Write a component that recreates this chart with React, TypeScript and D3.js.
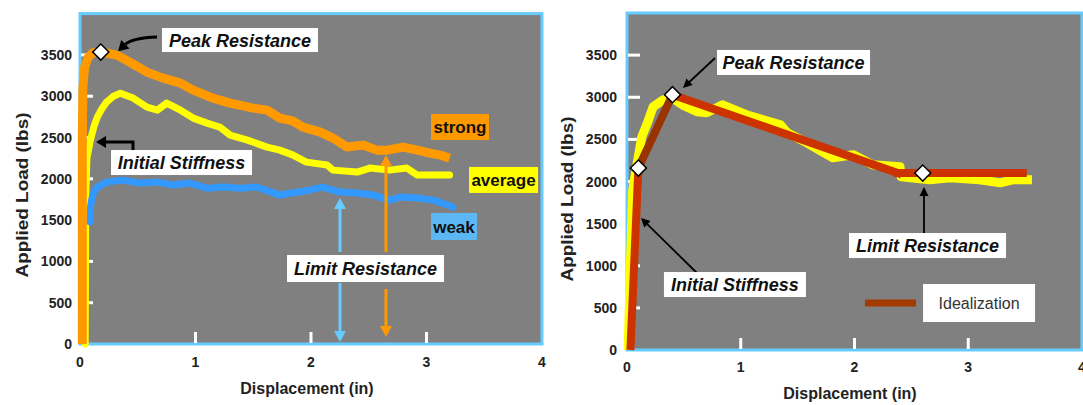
import React, { useEffect, useRef } from 'react';
import * as d3 from 'd3';

const dispTicks = [0, 1, 2, 3, 4];
const loadTicks = [0, 500, 1000, 1500, 2000, 2500, 3000, 3500];

// left panel: measured curves, [displacement (in), load (lbs)]
const strongCurve = [
  [0.02, 0], [0.02, 2500], [0.025, 3100], [0.04, 3350], [0.07, 3470], [0.11, 3525], [0.18, 3535],
  [0.32, 3497], [0.43, 3412], [0.58, 3291], [0.72, 3219], [0.87, 3158], [0.98, 3073],
  [1.15, 2977], [1.3, 2916], [1.5, 2856], [1.62, 2831], [1.73, 2735], [1.84, 2700],
  [1.93, 2626], [2.08, 2565], [2.19, 2493], [2.31, 2384], [2.45, 2408], [2.57, 2347],
  [2.66, 2347], [2.8, 2384], [2.92, 2347], [3.03, 2311], [3.12, 2287], [3.2, 2250],
];
const averageCurve = [
  [0.045, 0], [0.05, 1800], [0.06, 2250], [0.09, 2468], [0.12, 2630], [0.15, 2747],
  [0.19, 2850], [0.23, 2928], [0.29, 3000], [0.35, 3037], [0.46, 2977], [0.58, 2868],
  [0.67, 2831], [0.75, 2916], [0.87, 2831], [0.98, 2735], [1.1, 2674], [1.21, 2626],
  [1.3, 2529], [1.45, 2468], [1.62, 2384], [1.73, 2347], [1.84, 2290], [1.96, 2202],
  [2.14, 2166], [2.19, 2105], [2.4, 2081], [2.51, 2130], [2.68, 2105], [2.83, 2130],
  [2.92, 2045], [3.2, 2045],
];
const weakCurve = [
  [0.085, 1480], [0.09, 1650], [0.1, 1742], [0.12, 1840], [0.15, 1900], [0.23, 1960],
  [0.37, 1984], [0.52, 1948], [0.67, 1960], [0.81, 1924], [0.95, 1948], [1.1, 1887],
  [1.24, 1900], [1.39, 1887], [1.53, 1900], [1.73, 1803], [1.84, 1830], [1.9, 1839],
  [2.1, 1900], [2.25, 1839], [2.4, 1827], [2.54, 1803], [2.68, 1742], [2.77, 1779],
  [2.92, 1767], [3.06, 1742], [3.23, 1658],
];
const peakPoint = [0.18, 3535];

// right panel: average trace and its idealization
const averageTrace = [
  [0.01, 0], [0.03, 1000], [0.05, 1900], [0.09, 2221], [0.13, 2530], [0.18, 2697],
  [0.23, 2887], [0.32, 2970], [0.38, 3006], [0.5, 2900], [0.62, 2827], [0.7, 2815],
  [0.84, 2910], [1.05, 2792], [1.35, 2673], [1.41, 2578], [1.58, 2459], [1.81, 2281],
  [1.99, 2317], [2.16, 2198], [2.4, 2174], [2.41, 2055], [2.66, 2020], [2.84, 2043],
  [3.1, 2020], [3.28, 1984], [3.39, 2020], [3.56, 2020],
];
const idealization = [[0.03, 0], [0.1, 2160], [0.4, 3030], [2.38, 2100], [3.48, 2100]];
const idealPoints = [[0.1, 2160], [0.4, 3030], [2.6, 2100]];

const FONT = "Arial, 'Liberation Sans', sans-serif";

function App() {
  const svgRef = useRef(null);

  useEffect(() => {
    const svg = d3.select(svgRef.current);
    svg.selectAll('*').remove();

    const drawFrame = (x, y, titleX, titleY, labelRight, xLabelDy, xTitleDy) => {
      const g = svg.append('g');
      const [x0, x1] = x.range();
      const [y0, y1] = y.range();
      g.append('rect')
        .attr('x', x0).attr('y', y1)
        .attr('width', x1 - x0).attr('height', y0 - y1)
        .attr('fill', '#808080')
        .attr('stroke', '#66ccff')
        .attr('stroke-width', 3);

      g.selectAll(null)
        .data(loadTicks.filter(d => d > 0))
        .join('line')
        .attr('x1', x0 + 1).attr('x2', x0 + 13)
        .attr('y1', d => y(d)).attr('y2', d => y(d))
        .attr('stroke', 'white').attr('stroke-width', 3);
      g.selectAll(null)
        .data(dispTicks.filter(d => d > 0 && d < 4))
        .join('line')
        .attr('x1', d => x(d)).attr('x2', d => x(d))
        .attr('y1', y0 - 1).attr('y2', y0 - 12)
        .attr('stroke', 'white').attr('stroke-width', 3);

      g.selectAll(null)
        .data(loadTicks)
        .join('text')
        .text(d => d)
        .attr('x', labelRight)
        .attr('y', d => y(d) + 5)
        .attr('text-anchor', 'end')
        .style('font-family', FONT).style('font-weight', 'bold').style('font-size', '14px')
        .attr('fill', '#222');
      g.selectAll(null)
        .data(dispTicks)
        .join('text')
        .text(d => d)
        .attr('x', d => x(d))
        .attr('y', y0 + xLabelDy)
        .attr('text-anchor', 'middle')
        .style('font-family', FONT).style('font-weight', 'bold').style('font-size', '14px')
        .attr('fill', '#222');

      g.append('text')
        .text('Displacement (in)')
        .attr('x', titleX).attr('y', y0 + xTitleDy)
        .attr('text-anchor', 'middle')
        .style('font-family', FONT).style('font-weight', 'bold').style('font-size', '16px')
        .attr('fill', '#222');
      g.append('text')
        .text('Applied Load (lbs)')
        .attr('transform', `translate(${titleY[0]},${titleY[1]}) rotate(-90)`)
        .attr('text-anchor', 'middle')
        .attr('dy', '0.35em')
        .attr('textLength', 165)
        .attr('lengthAdjust', 'spacingAndGlyphs')
        .style('font-family', FONT).style('font-weight', 'bold').style('font-size', '16px')
        .attr('fill', '#222');
      return g;
    };

    const arrow = (g, x1, y1, x2, y2, color, width, headLen, headHalf) => {
      const a = Math.atan2(y2 - y1, x2 - x1);
      const bx = x2 - headLen * Math.cos(a);
      const by = y2 - headLen * Math.sin(a);
      g.append('line')
        .attr('x1', x1).attr('y1', y1).attr('x2', bx + Math.cos(a)).attr('y2', by + Math.sin(a))
        .attr('stroke', color).attr('stroke-width', width);
      g.append('polygon')
        .attr('points', [
          [x2, y2],
          [bx + headHalf * Math.sin(a), by - headHalf * Math.cos(a)],
          [bx - headHalf * Math.sin(a), by + headHalf * Math.cos(a)],
        ].map(p => p.join(',')).join(' '))
        .attr('fill', color);
    };

    const label = (g, cx, cy, w, h, text, opts) => {
      const size = opts.size || 18;
      g.append('rect')
        .attr('x', cx - w / 2).attr('y', cy - h / 2)
        .attr('width', w).attr('height', h)
        .attr('fill', opts.fill || 'white');
      g.append('text')
        .text(text)
        .attr('x', cx + (opts.dx || 0)).attr('y', cy + size * 0.36)
        .attr('text-anchor', 'middle')
        .style('font-family', FONT)
        .style('font-weight', opts.weight || 'bold')
        .style('font-style', opts.italic ? 'italic' : 'normal')
        .style('font-size', `${size}px`)
        .attr('fill', opts.color || '#111');
    };

    const diamond = d3.symbol().type(d3.symbolSquare).size(130);

    // ---------- left panel ----------
    const lx = d3.scaleLinear().domain([0, 4]).range([80, 542]);
    const ly = d3.scaleLinear().domain([0, 4000]).range([344, 13.6]);
    const left = drawFrame(lx, ly, 307, [22, 195], 72, 23, 50);
    const lLine = d3.line().x(d => lx(d[0])).y(d => ly(d[1]));

    left.append('path').attr('d', lLine(averageCurve))
      .attr('fill', 'none').attr('stroke', '#ffff00').attr('stroke-width', 7)
      .attr('stroke-linejoin', 'round').attr('stroke-linecap', 'round');
    left.append('path').attr('d', lLine(weakCurve))
      .attr('fill', 'none').attr('stroke', '#3399ff').attr('stroke-width', 7)
      .attr('stroke-linejoin', 'round').attr('stroke-linecap', 'round');
    left.append('path').attr('d', lLine(strongCurve))
      .attr('fill', 'none').attr('stroke', '#ff9900').attr('stroke-width', 9)
      .attr('stroke-linejoin', 'round').attr('stroke-linecap', 'butt');

    left.append('path')
      .attr('d', diamond())
      .attr('transform', `translate(${lx(peakPoint[0])},${ly(peakPoint[1])}) rotate(45)`)
      .attr('fill', 'white').attr('stroke', 'black').attr('stroke-width', 1.5);

    // peak arrow (curved)
    {
      const sx = lx(0.667), sy = ly(3717);
      const cx = lx(0.45), cy = ly(3705);
      const tx = lx(0.33), ty = ly(3545);
      const a = Math.atan2(ty - cy, tx - cx);
      const bx = tx - 10 * Math.cos(a), by = ty - 10 * Math.sin(a);
      left.append('path')
        .attr('d', `M${sx},${sy} Q${cx},${cy} ${bx},${by}`)
        .attr('fill', 'none').attr('stroke', 'black').attr('stroke-width', 3);
      left.append('polygon')
        .attr('points', [[tx, ty], [bx + 6 * Math.sin(a), by - 6 * Math.cos(a)], [bx - 6 * Math.sin(a), by + 6 * Math.cos(a)]]
          .map(p => p.join(',')).join(' '))
        .attr('fill', 'black');
    }
    label(left, lx(1.385), ly(3680), 156, 24, 'Peak Resistance', { italic: true });

    // initial stiffness elbow arrow
    left.append('polyline')
      .attr('points', `${lx(0.459)},${ly(2349)} ${lx(0.459)},${ly(2446)} ${lx(0.139) + 9},${ly(2446)}`)
      .attr('fill', 'none').attr('stroke', 'black').attr('stroke-width', 3);
    arrow(left, lx(0.139) + 10, ly(2446), lx(0.139), ly(2446), 'black', 3, 10, 6);
    label(left, lx(0.879), ly(2197), 141, 25, 'Initial Stiffness', { italic: true });

    // limit resistance double arrows
    arrow(left, lx(2.251), ly(1114), lx(2.251), ly(1768), '#66ccff', 3, 11, 6);
    arrow(left, lx(2.251), ly(739), lx(2.251), ly(24), '#66ccff', 3, 11, 6);
    arrow(left, lx(2.649), ly(1114), lx(2.649), ly(2288), '#ff9900', 3, 11, 6);
    arrow(left, lx(2.649), ly(666), lx(2.649), ly(85), '#ff9900', 3, 11, 6);
    label(left, lx(2.472), ly(914), 157, 27, 'Limit Resistance', { italic: true });

    label(left, lx(3.29), ly(2627), 58, 26, 'strong', { fill: '#ff9900', size: 17 });
    label(left, lx(3.667), ly(1986), 69, 26, 'average', { fill: '#ffff00', size: 17 });
    label(left, lx(3.238), ly(1423), 46, 27, 'weak', { fill: '#5cb8f5', size: 17 });

    // ---------- right panel ----------
    const rx = d3.scaleLinear().domain([0, 4]).range([627, 1082]);
    const ry = d3.scaleLinear().domain([0, 4000]).range([350, 13]);
    const right = drawFrame(rx, ry, 850, [567, 199], 617, 22, 49);
    const rLine = d3.line().x(d => rx(d[0])).y(d => ry(d[1]));

    right.append('path').attr('d', rLine(averageTrace))
      .attr('fill', 'none').attr('stroke', '#ffff00').attr('stroke-width', 9)
      .attr('stroke-linejoin', 'round').attr('stroke-linecap', 'butt');

    const segColors = ['#cc3300', '#993300', '#cc3300', '#cc3300'];
    d3.pairs(idealization).forEach((seg, i) => {
      right.append('path').attr('d', rLine(seg))
        .attr('fill', 'none').attr('stroke', segColors[i]).attr('stroke-width', 8)
        .attr('stroke-linecap', i === 0 ? 'butt' : 'square');
    });

    right.selectAll(null)
      .data(idealPoints)
      .join('path')
      .attr('d', diamond())
      .attr('transform', d => `translate(${rx(d[0])},${ry(d[1])}) rotate(45)`)
      .attr('fill', 'white').attr('stroke', 'black').attr('stroke-width', 1.5);

    arrow(right, rx(0.774), ry(3466), rx(0.492), ry(3110), 'black', 1.8, 9, 4.5);
    label(right, rx(1.464), ry(3413), 153, 25, 'Peak Resistance', { italic: true });

    arrow(right, rx(0.615), ry(914), rx(0.123), ry(1567), 'black', 1.8, 9, 4.5);
    label(right, rx(0.949), ry(777), 142, 25, 'Initial Stiffness', { italic: true });

    arrow(right, rx(2.611), ry(1389), rx(2.611), ry(1935), 'black', 1.8, 9, 4.5);
    label(right, rx(2.642), ry(1240), 157, 25, 'Limit Resistance', { italic: true });

    // legend
    right.append('line')
      .attr('x1', rx(2.092)).attr('x2', rx(2.541))
      .attr('y1', ry(558)).attr('y2', ry(558))
      .attr('stroke', '#a33a00').attr('stroke-width', 7);
    label(right, rx(3.095), ry(558), 112, 38, 'Idealization',
      { weight: 'normal', size: 16, color: '#333' });
  }, []);

  return (
    <svg ref={svgRef} width={1083} height={405}
      style={{ position: 'absolute', left: 0, top: 0, background: 'white' }} />
  );
}

export default App;
